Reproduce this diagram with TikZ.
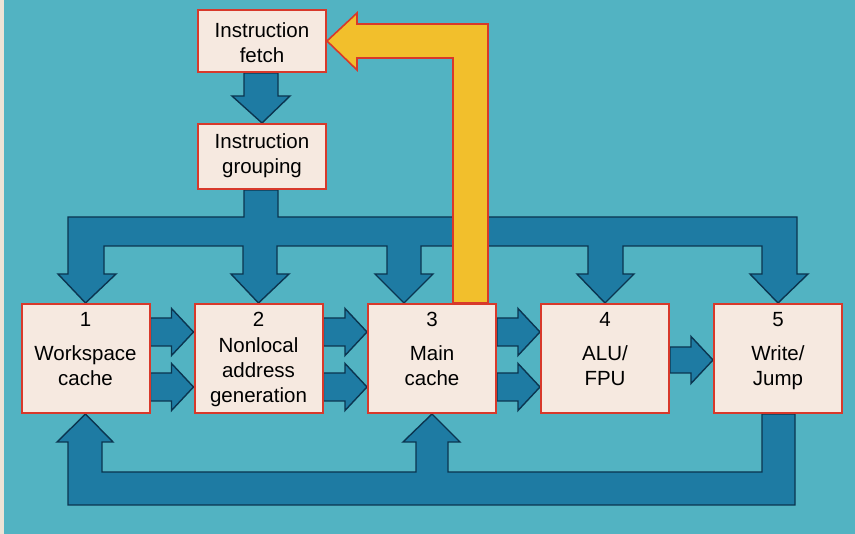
\documentclass[tikz,border=0pt]{standalone}
\usepackage{fontspec}
\setmainfont{Liberation Sans}
\usetikzlibrary{calc}
\definecolor{bgc}{HTML}{52B3C2}
\definecolor{edgec}{HTML}{EDE3D6}
\definecolor{arrowblue}{HTML}{1E7BA3}
\definecolor{arrowline}{HTML}{0B3550}
\definecolor{boxfill}{HTML}{F6E9E0}
\definecolor{boxline}{HTML}{D8392B}
\definecolor{yel}{HTML}{F2BF2C}
\pgfdeclarelayer{back}
\pgfdeclarelayer{arr}
\pgfsetlayers{back,arr,main}
\newcommand\harrow[4]{% from, to, dy, shaft half height
  \filldraw[fat] ($(#1.east)+(0,#3-#4)$) -- ($(#2.west)+(-22,#3-#4)$) -- ($(#2.west)+(-22,#3-23.5)$) -- ($(#2.west)+(0,#3)$) -- ($(#2.west)+(-22,#3+23.5)$) -- ($(#2.west)+(-22,#3+#4)$) -- ($(#1.east)+(0,#3+#4)$) -- cycle;}
\begin{document}
\begin{tikzpicture}[x=1pt,y=-1pt,
  box/.style={draw=boxline, line width=2pt, fill=boxfill, minimum width=128pt, minimum height=109pt, inner sep=0pt},
  txt/.style={font=\fontsize{20.5}{25}\selectfont, align=center, inner sep=0pt, anchor=north},
  fat/.style={fill=arrowblue, draw=arrowline, line width=1.4pt, line join=miter},
  yfat/.style={fill=yel, draw=boxline, line width=1.6pt, line join=miter}]
\useasboundingbox (0,0) rectangle (855,534);
\begin{pgfonlayer}{back}
  \fill[bgc] (0,0) rectangle (855,534);
  \fill[edgec] (0,0) rectangle (4,534);
\end{pgfonlayer}

% boxes
\node[box, minimum height=62pt] (fetch) at (262,41) {};
\node[box, minimum height=65pt] (group) at (262,156.5) {};
\node[box] (b1) at (85.5,358.5) {};
\node[box] (b2) at (258.5,358.5) {};
\node[box] (b3) at (432,358.5) {};
\node[box] (b4) at (605,358.5) {};
\node[box] (b5) at (778,358.5) {};

% texts
\node[txt] (tfetch) at (262,22.3) {Instruction\\fetch};
\node[txt] (tgroup) at (262,133.3) {Instruction\\grouping};
\node[txt] (n1) at (85.5,312.3) {1};
\node[txt] (n2) at (258.5,312.3) {2};
\node[txt] (n3) at (432,312.3) {3};
\node[txt] (n4) at (605,312.3) {4};
\node[txt] (n5) at (778,312.3) {5};
\node[txt] (t1) at (85.5,345.3) {Workspace\\cache};
\node[txt] (t2) at (258.5,337.3) {Nonlocal\\address\\generation};
\node[txt] (t3) at (432,345.3) {Main\\cache};
\node[txt] (t4) at (605,345.3) {ALU/\\FPU};
\node[txt] (t5) at (778,345.3) {Write/\\Jump};

\begin{pgfonlayer}{arr}
  % fetch -> grouping
  \filldraw[fat] (244,73) -- (278,73) -- (278,96) -- (290,96) -- (group.north) -- (232,96) -- (244,96) -- cycle;
  % distribution bus from grouping
  \filldraw[fat] (68,217) -- (244,217) -- (244,190) -- (278,190) -- (278,217) -- (797,217)
    -- (797,274) -- (808,274) -- (b5.north) -- (750,274) -- (762,274) -- (762,246)
    -- (623,246) -- (623,274) -- (634,274) -- (b4.north) -- (577,274) -- (588,274) -- (588,246)
    -- (421,246) -- (421,274) -- (433,274) -- (404,303) -- (375,274) -- (387,274) -- (387,246)
    -- (277,246) -- (277,274) -- (289,274) -- (b2.north) -- (231,274) -- (243,274) -- (243,246)
    -- (104,246) -- (104,274) -- (116,274) -- (b1.north) -- (58,274) -- (68,274) -- cycle;
  % feedback bus from 5
  \filldraw[fat] (795,414) -- (795,505) -- (68,505) -- (68,442) -- (57,442) -- (b1.south)
    -- (113,442) -- (102,442) -- (102,472) -- (416,472) -- (416,442) -- (403,442) -- (b3.south)
    -- (460,442) -- (448,442) -- (448,472) -- (762,472) -- (762,414) -- cycle;
  % horizontal arrows
  \harrow{b1}{b2}{-26.5}{14}
  \harrow{b1}{b2}{28.5}{14}
  \harrow{b2}{b3}{-26.5}{14}
  \harrow{b2}{b3}{28.5}{14}
  \harrow{b3}{b4}{-26.5}{14}
  \harrow{b3}{b4}{28.5}{14}
  \harrow{b4}{b5}{1.5}{13}
  % yellow branch back to fetch
  \filldraw[yfat] (453,303) -- (453,58) -- (357,58) -- (357,70) -- (fetch.east) -- (357,13) -- (357,24) -- (488,24) -- (488,303) -- cycle;
\end{pgfonlayer}
\end{tikzpicture}
\end{document}
